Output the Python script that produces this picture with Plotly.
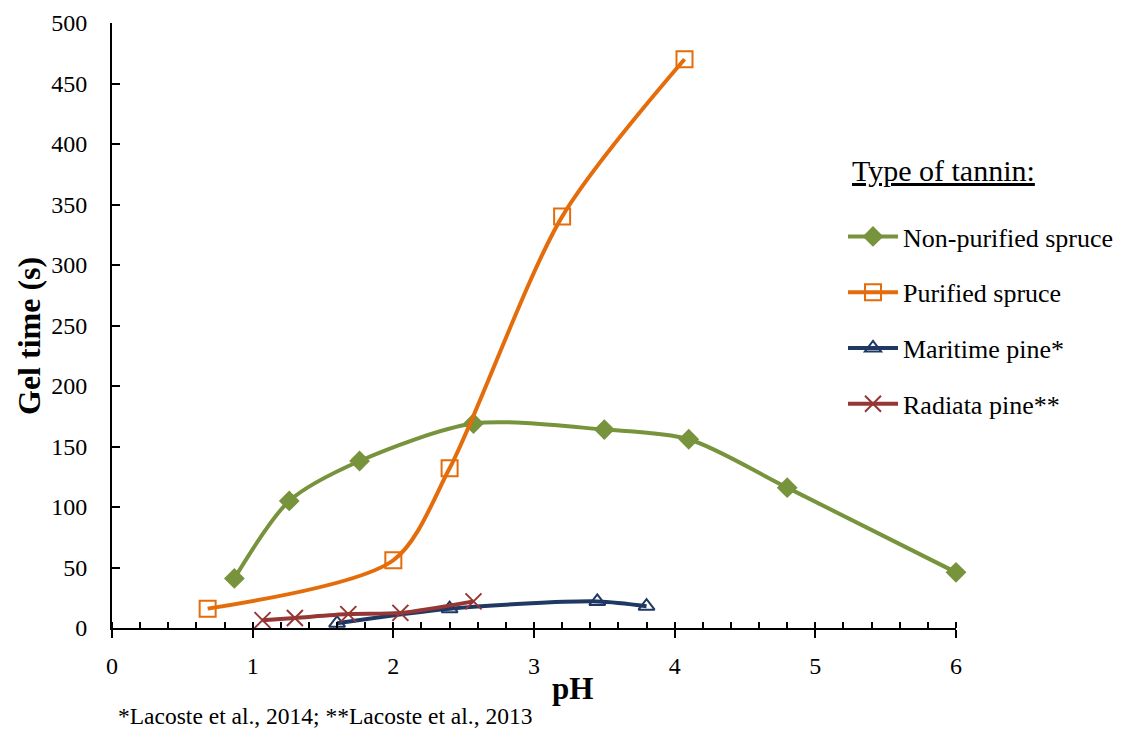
import plotly.graph_objects as go

# ---- data ----
np_spruce_ph = [0.87, 1.26, 1.76, 2.57, 3.5, 4.1, 4.8, 6.0]
np_spruce_gel = [41, 105, 138, 169, 164, 156, 116, 46]

p_spruce_ph = [0.68, 2.0, 2.4, 3.2, 4.07]
p_spruce_gel = [16, 56, 132, 340, 470]

maritime_ph = [1.6, 2.4, 3.45, 3.8]
maritime_gel = [4, 16, 22, 18]

radiata_ph = [1.07, 1.3, 1.68, 2.05, 2.57]
radiata_gel = [6.5, 8.3, 11.5, 12.5, 22]

FONT = "Liberation Serif"

fig = go.Figure()

fig.add_trace(go.Scatter(
    x=np_spruce_ph, y=np_spruce_gel, name="Non-purified spruce",
    mode="lines+markers", line=dict(color="#77933C", width=4, shape="spline", smoothing=0.8),
    marker=dict(symbol="diamond", size=16, color="#77933C"),
    legendgroup="a", cliponaxis=False))
fig.add_trace(go.Scatter(
    x=p_spruce_ph, y=p_spruce_gel, name="Purified spruce",
    mode="lines+markers", line=dict(color="#E46C0A", width=4, shape="spline", smoothing=0.8),
    marker=dict(symbol="square-open", size=16, color="#E46C0A", line=dict(width=2)),
    legendgroup="b", cliponaxis=False))
fig.add_trace(go.Scatter(
    x=maritime_ph, y=maritime_gel, name="Maritime pine*",
    mode="lines+markers", line=dict(color="#1F3864", width=4, shape="spline", smoothing=0.8),
    marker=dict(symbol="triangle-up-open", size=14, color="#1F3864", line=dict(width=2)),
    legendgroup="c", cliponaxis=False))
fig.add_trace(go.Scatter(
    x=radiata_ph, y=radiata_gel, name="Radiata pine**",
    mode="lines+markers", line=dict(color="#953735", width=4, shape="spline", smoothing=0.8),
    marker=dict(symbol="x-thin-open", size=16, color="#953735", line=dict(width=2, color="#953735")),
    legendgroup="d", cliponaxis=False))

# Page body has an 8px margin: figure is offset by 8px in the screenshot.
OFF = 8
SL, SR, ST, SB = 112, 956, 23, 628          # plot area in screen pixels
W, H = 1125 - OFF, 729 - OFF
pw, ph = SR - SL, SB - ST


def px(xs):
    return (xs - SL) / pw


def py(ys):
    return (SB - ys) / ph


fig.update_layout(
    width=W, height=H,
    margin=dict(l=SL - OFF, r=W - (SR - OFF), t=ST - OFF, b=H - (SB - OFF), pad=0,
                autoexpand=False),
    paper_bgcolor="white", plot_bgcolor="white",
    font=dict(family=FONT, size=24, color="black"),
    showlegend=True,
    legend=dict(x=px(843), y=py(213), xanchor="left", yanchor="top",
                font=dict(size=26, family=FONT), traceorder="grouped",
                tracegroupgap=19, bgcolor="rgba(0,0,0,0)", itemwidth=50),
    xaxis=dict(range=[0, 6], dtick=1, showline=True, linecolor="black", linewidth=2,
               ticks="outside", ticklen=8, tickwidth=2, tickcolor="black",
               minor=dict(ticks="inside", dtick=0.2, ticklen=6, tickwidth=1.5, tickcolor="black"),
               showgrid=False, zeroline=False, ticklabelstandoff=7, automargin=False,
               tickfont=dict(size=24, family=FONT)),
    xaxis2=dict(range=[0, 6], dtick=1, overlaying="x", anchor="y", side="bottom",
                ticks="inside", ticklen=6, tickwidth=2, tickcolor="black", automargin=False,
                showticklabels=False, showgrid=False, zeroline=False, showline=False),
    yaxis=dict(range=[0, 500], dtick=50, showline=True, linecolor="black", linewidth=2,
               ticks="inside", ticklen=8, tickwidth=2, tickcolor="black",
               showgrid=False, zeroline=False, ticklabelstandoff=18, automargin=False,
               tickfont=dict(size=24, family=FONT)),
    annotations=[
        dict(text="<b>pH</b>", x=px(572), y=py(688), xref="paper", yref="paper",
             showarrow=False, font=dict(size=31, family=FONT), xanchor="center", yanchor="middle"),
        dict(text="<b>Gel time (s)</b>", x=px(29), y=py(336), xref="paper", yref="paper",
             showarrow=False, textangle=-90, font=dict(size=32, family=FONT),
             xanchor="center", yanchor="middle"),
        dict(text="*Lacoste et al., 2014; **Lacoste et al., 2013", x=px(116), y=py(716),
             xref="paper", yref="paper", showarrow=False, font=dict(size=23.5, family=FONT),
             xanchor="left", yanchor="middle"),
        dict(text="<u>Type of tannin:</u>", x=px(943), y=py(170), xref="paper", yref="paper",
             showarrow=False, font=dict(size=30, family=FONT), xanchor="center", yanchor="middle"),
    ],
)

fig.write_html("out.html")
